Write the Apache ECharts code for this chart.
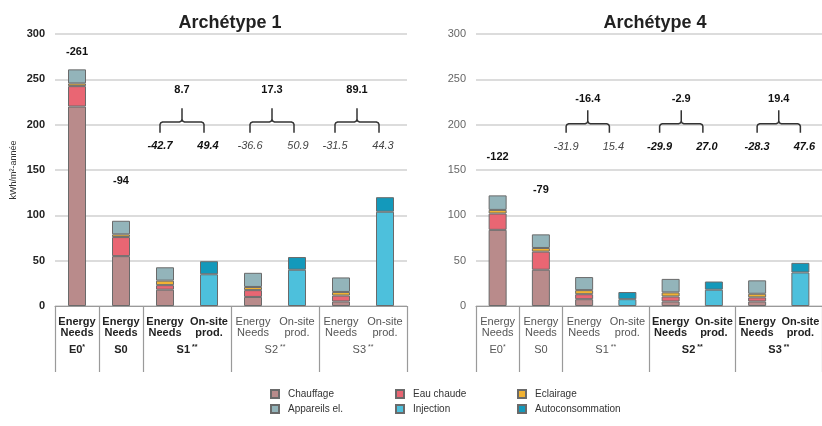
<!DOCTYPE html>
<html><head><meta charset="utf-8">
<script src="https://cdn.jsdelivr.net/npm/echarts@6/dist/echarts.min.js"></script>
<style>html,body{margin:0;padding:0;background:#fff}#c{width:822px;height:426px}</style>
</head><body><div id="c"></div>
<script>
// ---------- DATA ----------
const categories = ['Energy\nNeeds','Energy\nNeeds','Energy\nNeeds','On-site\nprod.','Energy\nNeeds','On-site\nprod.','Energy\nNeeds','On-site\nprod.'];
const groupNames = ['E0','S0','S1','S2','S3'];
const groupMarks = ['*','',' **',' **',' **'];
const groupSizes = [1,1,2,2,2];
const yTicks = [0,50,100,150,200,250,300];

// Archétype 1
const chauffage1 = [220, 55, 18, null, 10, null, 5, null];
const eauChaude1 = [22.5, 21, 5, null, 7.5, null, 6.5, null];
const eclairage1 = [3, 3, 5, null, 3.5, null, 4, null];
const appareils1 = [15.5, 15, 14.7, null, 15.6, null, 16, null];
const injection1 = [null, null, null, 35, null, 40, null, 104];
const autoconso1 = [null, null, null, 14.4, null, 14, null, 16];
const totals1 = ['-261', '-94'];
const balance1 = ['8.7', '17.3', '89.1'];
const needs1 = ['-42.7', '-36.6', '-31.5'];
const prod1 = ['49.4', '50.9', '44.3'];

// Archétype 4
const chauffage4 = [84, 40, 7.5, null, 5, null, 5, null];
const eauChaude4 = [18, 20, 5.5, null, 5.5, null, 4.5, null];
const eclairage4 = [4, 4, 4.5, null, 4.5, null, 4, null];
const appareils4 = [16, 15, 14.4, null, 14.9, null, 14.8, null];
const injection4 = [null, null, null, 7.5, null, 18, null, 37];
const autoconso4 = [null, null, null, 7.9, null, 9, null, 10.6];
const totals4 = ['-122', '-79'];
const balance4 = ['-16.4', '-2.9', '19.4'];
const needs4 = ['-31.9', '-29.9', '-28.3'];
const prod4 = ['15.4', '27.0', '47.6'];

// ---------- STYLE / LAYOUT ----------
const FONT = '"Liberation Sans", Arial, Helvetica, sans-serif';
const colors = {
  'Chauffage':'#b98b8b', 'Eau chaude':'#e96673', 'Eclairage':'#f1b233',
  'Appareils el.':'#93b4ba', 'Injection':'#4dc0dc', 'Autoconsommation':'#1399bb'
};
const bounds = [0]; groupSizes.forEach(s => bounds.push(bounds[bounds.length-1] + s));
const centers = groupSizes.map((s,i) => bounds[i] + s/2);

const charts = [
  { title:'Archétype 1', titleX:225, left:55, width:352, boldGroups:[true,true,true,false,false],
    yLabel:{color:'#222', fontWeight:'bold'}, showName:true,
    data:[chauffage1,eauChaude1,eclairage1,appareils1,injection1,autoconso1],
    totals:totals1, totalsAt:[280,138], balance:balance1, needs:needs1, prod:prod1,
    braceDx:[-5,-3,-6], braceBold:[true,false,false],
    yTop:238, yTick:218, yH:203, yEnd:191, yBottom:177 },
  { title:'Archétype 4', titleX:650, left:476, width:354.5, boldGroups:[false,false,false,true,true],
    yLabel:{color:'#666', fontWeight:'normal'}, showName:false,
    data:[chauffage4,eauChaude4,eclairage4,appareils4,injection4,autoconso4],
    totals:totals4, totalsAt:[164,128], balance:balance4, needs:needs4, prod:prod4,
    braceDx:[-18,-11,0], braceBold:[false,true,true],
    yTop:228, yTick:216, yH:201, yEnd:191, yBottom:175 }
];
const seriesNames = ['Chauffage','Eau chaude','Eclairage','Appareils el.','Injection','Autoconsommation'];

const option = {
  animation:false,
  backgroundColor:'#fff',
  textStyle:{fontFamily:FONT},
  title: charts.map(c => ({text:c.title, left:c.titleX, top:9, textAlign:'center',
    textStyle:{fontFamily:FONT, fontSize:18, fontWeight:'bold', color:'#222'}})),
  grid: charts.map(c => ({left:c.left, width:c.width, top:34, bottom:120, containLabel:false})),
  xAxis: [],
  yAxis: [],
  series: [],
  legend: [
    ['Chauffage','Appareils el.', 270],
    ['Eau chaude','Injection', 395],
    ['Eclairage','Autoconsommation', 517]
  ].map(l => ({orient:'vertical', left:l[2], top:389, data:[l[0],l[1]], icon:'rect',
    itemWidth:8, itemHeight:8, itemGap:5, padding:0, selectedMode:false,
    textStyle:{fontFamily:FONT, fontSize:10, color:'#333', padding:[0,0,0,4]}}))
};

charts.forEach((c, gi) => {
  const rich = {
    b:{fontFamily:FONT, fontSize:11, fontWeight:'bold', color:'#222', lineHeight:11},
    r:{fontFamily:FONT, fontSize:11, color:'#555', lineHeight:11},
    gb:{fontFamily:FONT, fontSize:11, fontWeight:'bold', color:'#222'},
    gr:{fontFamily:FONT, fontSize:11, color:'#555'},
    sb:{fontFamily:FONT, fontSize:7, fontWeight:'bold', color:'#222', verticalAlign:'top', padding:[0,0,5,0]},
    sr:{fontFamily:FONT, fontSize:7, color:'#555', verticalAlign:'top', padding:[0,0,5,0]}
  };
  const catBold = categories.map((_, i) => {
    let g = 0; while (i >= bounds[g+1]) g++; return c.boldGroups[g];
  });
  option.xAxis.push({
    type:'category', gridIndex:gi, data:categories, position:'bottom',
    axisLine:{show:true, lineStyle:{color:'#9a9a9a', width:1}},
    axisTick:{show:false},
    axisLabel:{interval:0, margin:10, formatter:(v,i)=> catBold[i] ? '{b|'+v+'}' : '{r|'+v+'}', rich}
  });
  option.xAxis.push({
    type:'value', gridIndex:gi, min:0, max:8, position:'bottom',
    axisLine:{show:false}, splitLine:{show:false},
    axisTick:{show:true, customValues:bounds, length:66, lineStyle:{color:'#9a9a9a', width:1.2}},
    axisLabel:{customValues:centers, margin:38, formatter:(v)=>{
      const g = centers.indexOf(v); if (g < 0) return '';
      const bb = c.boldGroups[g];
      return (bb?'{gb|':'{gr|') + groupNames[g] + '}' + (groupMarks[g] ? (bb?'{sb|':'{sr|') + groupMarks[g] + '}' : '');
    }, rich}
  });
  option.yAxis.push({
    type:'value', gridIndex:gi, min:yTicks[0], max:yTicks[yTicks.length-1], interval:50,
    name: c.showName ? 'kWh/m²-année' : '', nameLocation:'middle', nameGap:37, nameRotate:90,
    nameTextStyle:{fontFamily:FONT, fontSize:9, color:'#333'},
    axisLine:{show:false}, axisTick:{show:false},
    axisLabel:{margin:10, fontFamily:FONT, fontSize:11, color:c.yLabel.color, fontWeight:c.yLabel.fontWeight},
    splitLine:{show:true, lineStyle:{color:'#dcdcdc', width:2}}
  });
  seriesNames.forEach((n, si) => {
    option.series.push({
      name:n, type:'bar', stack:'s'+gi, xAxisIndex:gi*2, yAxisIndex:gi,
      barWidth:18, data:c.data[si],
      itemStyle:{color:colors[n], borderColor:'#6a6a6a', borderWidth:1}
    });
  });
});

const chart = echarts.init(document.getElementById('c'));
chart.setOption(option);

// ---------- annotations (placed through the axes' scales) ----------
const graphics = [];
charts.forEach((c, gi) => {
  const px = (cat, val) => chart.convertToPixel({xAxisIndex:gi*2, yAxisIndex:gi}, [cat, val]);
  c.totals.forEach((t, i) => {
    const p = px(i, c.totalsAt[i]);
    graphics.push({type:'text', x:p[0], y:p[1], style:{text:t, align:'center', verticalAlign:'middle',
      font:'bold 11px '+FONT, fill:'#111'}});
  });
  [2,4,6].forEach((cat, k) => {
    const dx = c.braceDx[k];
    const xl = px(cat, 0)[0] + dx, xr = px(cat+1, 0)[0] + dx, xc = (xl + xr)/2;
    const yH = px(cat, c.yH)[1], yT = px(cat, c.yTick)[1], yE = px(cat, c.yEnd)[1];
    const yTop = px(cat, c.yTop)[1], yB = px(cat, c.yBottom)[1];
    const lineStyle = {stroke:'#333', lineWidth:1.5, fill:null};
    graphics.push({type:'polyline', shape:{points:[[xl,yE],[xl,yH+2.5],[xl+0.8,yH+0.8],[xl+2.5,yH],[xc-2.5,yH],[xc-0.8,yH-0.8],[xc,yH-2.5],[xc,yT]]}, style:lineStyle});
    graphics.push({type:'polyline', shape:{points:[[xc,yH-2.5],[xc+0.8,yH-0.8],[xc+2.5,yH],[xr-2.5,yH],[xr-0.8,yH+0.8],[xr,yH+2.5],[xr,yE]]}, style:lineStyle});
    const bold = c.braceBold[k];
    const col = bold ? '#111' : '#444';
    graphics.push({type:'text', x:xc, y:yTop, style:{text:c.balance[k], align:'center', verticalAlign:'middle',
      font:'bold 11px '+FONT, fill:'#111'}});
    graphics.push({type:'text', x:xl, y:yB, style:{text:c.needs[k], align:'center', verticalAlign:'middle',
      font:(bold?'italic bold ':'italic ')+'11px '+FONT, fill:col}});
    graphics.push({type:'text', x:xr+4, y:yB, style:{text:c.prod[k], align:'center', verticalAlign:'middle',
      font:(bold?'italic bold ':'italic ')+'11px '+FONT, fill:col}});
  });
});
chart.setOption({graphic:graphics});
</script></body></html>
